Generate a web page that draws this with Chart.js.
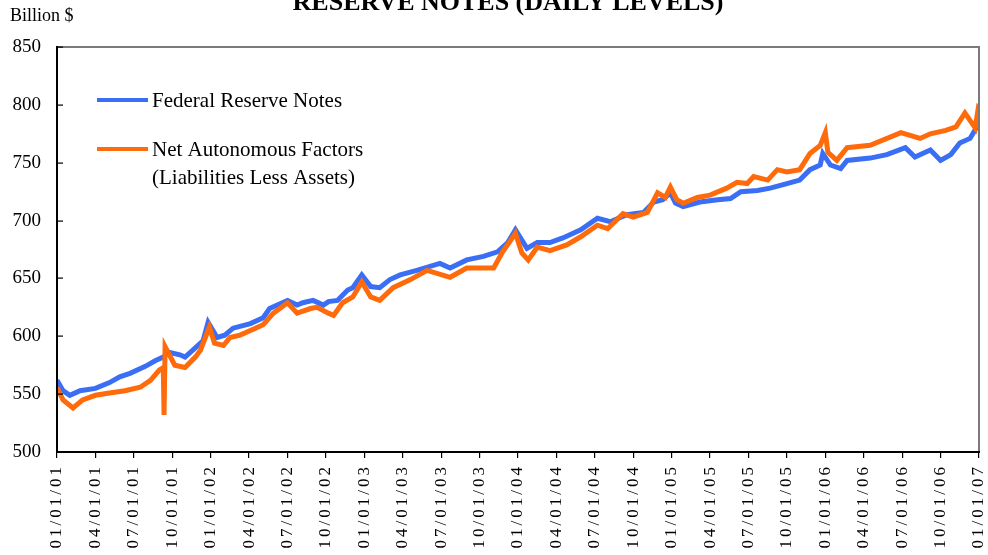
<!DOCTYPE html>
<html>
<head>
<meta charset="utf-8">
<script src="https://cdn.jsdelivr.net/npm/chart.js@4.4.1/dist/chart.umd.min.js"></script>
<style>
  html, body { margin: 0; padding: 0; background: #fff; }
  canvas { display: block; }
</style>
</head>
<body>
<canvas id="c" width="988" height="555"></canvas>
<script>
// ---- DATA (x = months since 01/01/01) ----
const fedMonths = [0,0.47,1.0,1.8,3.0,4.1,4.9,5.7,6.9,7.7,8.3,8.8,9.6,10.0,10.8,11.4,11.8,12.5,13.1,13.75,15.1,16.1,16.6,18.0,18.75,19.2,20.0,20.8,21.2,21.9,22.7,23.1,23.8,24.5,25.2,26.0,26.8,28.1,29.9,30.7,32.0,33.3,34.4,35.2,35.8,36.7,37.5,38.5,39.5,40.9,42.2,43.2,44.5,45.8,46.6,47.3,47.9,48.3,48.9,50.2,51.6,52.6,53.4,54.7,55.7,57.0,58.0,58.8,59.6,59.8,60.4,61.2,61.7,63.5,64.8,66.25,67.0,68.2,69.0,69.8,70.5,71.3,72.0];
const fedValues = [562,553,549,553,555,560,565,568,574,579,582,586,584,582,590,596,612,599,601,607,611,616,624,631,627,629,631,627,630,631,640,642,653,643,642,649,653,657,663,659,666,669,673,681,692,676,681,681,685,692,702,699,705,707,716,718,724,715,712,716,718,719,725,726,728,732,735,744,748,758,748,745,752,754,757,763,755,761,752,757,767,771,784];

const nafMonths = [0,0.47,1.25,2.0,3.0,4.1,5.3,6.5,7.3,8.0,8.3,8.36,8.44,9.2,10.0,10.8,11.2,11.9,12.3,13.0,13.5,14.3,15.1,16.1,16.9,18.0,18.75,19.8,20.3,21.2,21.6,22.3,23.1,23.8,24.5,25.2,26.25,27.6,28.9,30.7,32.0,34.1,34.8,35.8,36.3,36.8,37.5,38.5,39.8,40.9,42.2,43.0,44.2,45.0,46.1,46.9,47.5,47.9,48.4,48.9,50.0,51.0,52.3,53.1,53.9,54.4,55.5,56.25,57.0,58.0,58.8,59.6,60.0,60.2,60.9,61.7,63.5,65.9,67.4,68.2,69.4,70.2,70.9,71.7,72.0];
const nafValues = [556,545,538,545,549,551,553,556,562,571,573,532,591,575,573,582,588,608,594,592,599,601,605,610,620,629,620,624,625,620,618,629,634,647,634,631,642,649,657,651,659,659,673,689,672,666,677,674,679,686,696,693,706,703,707,724,720,729,718,715,720,722,728,733,732,738,735,744,742,744,758,765,776,759,752,763,765,776,771,775,778,781,793,780,801];

const tickLabels = ["01/01/01","04/01/01","07/01/01","10/01/01","01/01/02","04/01/02","07/01/02","10/01/02","01/01/03","04/01/03","07/01/03","10/01/03","01/01/04","04/01/04","07/01/04","10/01/04","01/01/05","04/01/05","07/01/05","10/01/05","01/01/06","04/01/06","07/01/06","10/01/06","01/01/07"];
const yTicks = [500,550,600,650,700,750,800,850];

const seriesNames = ["Federal Reserve Notes", "Net Autonomous Factors"];
const legendExtra = "(Liabilities Less Assets)";
const titleText = "RESERVE NOTES (DAILY LEVELS)";
const unitText = "Billion $";

// ---- STYLE ----
const FONT = "'Liberation Serif', 'Times New Roman', serif";
const BLUE = "#3a6ef5";
const ORANGE = "#ff6a0a";

const decorPlugin = {
  id: 'decor',
  afterLayout(chart) {
    const xs = chart.scales.x;
    if (xs && !xs._wrapped) {
      const orig = xs.drawLabels;
      xs.drawLabels = function (ca) {
        const ctx = this.ctx;
        ctx.save();
        ctx.letterSpacing = '3px';
        orig.call(this, ca);
        ctx.restore();
      };
      xs._wrapped = true;
    }
  },
  afterDraw(chart) {
    const ctx = chart.ctx;
    const xs = chart.scales.x;
    const ys = chart.scales.y;
    const L = xs.getPixelForValue(0);
    const R = xs.getPixelForValue(72);
    const T = ys.getPixelForValue(850);
    const B = ys.getPixelForValue(500);
    ctx.save();
    ctx.letterSpacing = '0px';
    ctx.globalAlpha = 1;
    ctx.setLineDash([]);
    ctx.fillStyle = '#7a7a7a';
    ctx.fillRect(L, T - 1, R - L + 1, 2);
    ctx.fillRect(R - 1, T - 1, 2, B - T + 1);
    ctx.fillStyle = '#000';
    ctx.fillRect(L - 1, T - 1, 2, B - T + 2);
    ctx.fillRect(L - 1, B - 1, R - L + 2, 2);
    yTicks.forEach(v => {
      const py = Math.round(ys.getPixelForValue(v));
      ctx.fillRect(L, py - 0.5, 6, 1.2);
    });
    // title (cut at top)
    ctx.font = "bold 26px " + FONT;
    ctx.textAlign = 'center';
    ctx.textBaseline = 'alphabetic';
    ctx.fillText(titleText, 508, 10);
    // unit
    ctx.font = "18px " + FONT;
    ctx.textAlign = 'left';
    ctx.fillText(unitText, 10, 21);
    // legend
    const items = [
      { color: BLUE, y: 100, lines: [seriesNames[0]] },
      { color: ORANGE, y: 149, lines: [seriesNames[1], legendExtra] }
    ];
    ctx.font = "21px " + FONT;
    ctx.textBaseline = 'middle';
    items.forEach(it => {
      ctx.strokeStyle = it.color;
      ctx.lineWidth = 4;
      ctx.beginPath();
      ctx.moveTo(97, it.y);
      ctx.lineTo(148, it.y);
      ctx.stroke();
      it.lines.forEach((t, i) => ctx.fillText(t, 152, it.y + 1 + i * 28));
    });
    ctx.restore();
  }
};

new Chart(document.getElementById('c'), {
  type: 'line',
  data: {
    datasets: [
      {
        label: seriesNames[0],
        data: fedMonths.map((m, i) => ({ x: m, y: fedValues[i] })),
        borderColor: BLUE,
        borderWidth: 5,
        pointRadius: 0,
        tension: 0,
        order: 1
      },
      {
        label: seriesNames[1],
        data: nafMonths.map((m, i) => ({ x: m, y: nafValues[i] })),
        borderColor: ORANGE,
        borderWidth: 5,
        pointRadius: 0,
        tension: 0,
        order: 0
      }
    ]
  },
  options: {
    responsive: false,
    devicePixelRatio: 1,
    animation: false,
    layout: { padding: { left: 0, right: 9, top: 47, bottom: 0 } },
    plugins: { legend: { display: false }, tooltip: { enabled: false }, title: { display: false } },
    scales: {
      x: {
        type: 'linear',
        min: 0,
        max: 72,
        afterBuildTicks(s) { s.ticks = tickLabels.map((_, i) => ({ value: i * 3 })); },
        afterFit(s) { s.height = 103; s.paddingLeft = 0; s.paddingRight = 0; },
        ticks: {
          autoSkip: false,
          maxRotation: 90,
          minRotation: 90,
          padding: 6,
          color: '#000',
          font: { family: FONT, size: 17 },
          callback(v) { return tickLabels[Math.round(v / 3)]; }
        },
        grid: { drawOnChartArea: false, drawTicks: true, tickLength: 6, color: '#000', lineWidth: 1.2 },
        border: { color: '#000', width: 2 }
      },
      y: {
        type: 'linear',
        min: 500,
        max: 850,
        afterBuildTicks(s) { s.ticks = yTicks.map(v => ({ value: v })); },
        afterFit(s) { s.width = 57; s.paddingTop = 0; s.paddingBottom = 0; },
        ticks: {
          padding: 16,
          color: '#000',
          font: { family: FONT, size: 19 }
        },
        grid: { drawOnChartArea: false, drawTicks: false },
        border: { color: '#000', width: 2 }
      }
    }
  },
  plugins: [decorPlugin]
});
</script>
</body>
</html>
